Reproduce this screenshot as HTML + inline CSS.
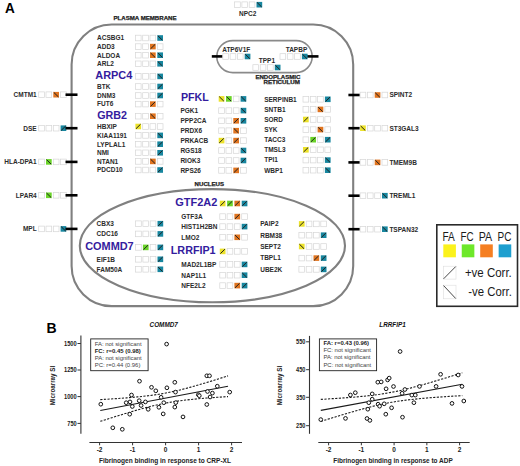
<!DOCTYPE html>
<html><head><meta charset="utf-8"><style>
html,body{margin:0;padding:0;background:#fff;}
body{width:520px;height:466px;overflow:hidden;}
svg{display:block;font-family:"Liberation Sans", sans-serif;}
</style></head><body>
<svg width="520" height="466" viewBox="0 0 520 466">
<rect width="520" height="466" fill="#fff"/>
<rect x="71.6" y="24.5" width="281.6" height="281.6" rx="40" ry="40" fill="none" stroke="#808080" stroke-width="2.1"/>
<ellipse cx="212.4" cy="245.7" rx="132.6" ry="56.6" fill="none" stroke="#808080" stroke-width="2.1"/>
<rect x="216.8" y="40.6" width="95.4" height="32" rx="16" ry="16" fill="none" stroke="#8a8a8a" stroke-width="1.6"/>
<line x1="211.8" y1="56.4" x2="222.6" y2="56.4" stroke="#000" stroke-width="2.6"/>
<line x1="306.5" y1="56.4" x2="318.5" y2="56.4" stroke="#000" stroke-width="2.6"/>
<text x="4.90" y="13.41" font-size="14" font-weight="bold" font-style="normal" fill="#000" text-anchor="start" textLength="9.8" lengthAdjust="spacingAndGlyphs">A</text>
<text x="113.50" y="20.37" font-size="5.5" font-weight="bold" font-style="normal" fill="#222" text-anchor="start" textLength="63" lengthAdjust="spacingAndGlyphs" stroke="#222" stroke-width="0.25">PLASMA MEMBRANE</text>
<text x="194.60" y="185.77" font-size="5.5" font-weight="bold" font-style="normal" fill="#222" text-anchor="start" textLength="29.4" lengthAdjust="spacingAndGlyphs" stroke="#222" stroke-width="0.25">NUCLEUS</text>
<text x="255.40" y="78.97" font-size="5.5" font-weight="bold" font-style="normal" fill="#222" text-anchor="start" textLength="45" lengthAdjust="spacingAndGlyphs" stroke="#222" stroke-width="0.25">ENDOPLASMIC</text>
<text x="263.50" y="83.87" font-size="5.5" font-weight="bold" font-style="normal" fill="#222" text-anchor="start" textLength="36.5" lengthAdjust="spacingAndGlyphs" stroke="#222" stroke-width="0.25">RETICULUM</text>
<text x="97.00" y="40.33" font-size="6.5" font-weight="bold" font-style="normal" fill="#2b2b2b" text-anchor="start">ACSBG1</text>
<rect x="135.40" y="35.20" width="5.7" height="5.6" fill="#fff" stroke="#d6d6d6" stroke-width="0.7"/>
<rect x="142.70" y="35.20" width="5.7" height="5.6" fill="#fff" stroke="#d6d6d6" stroke-width="0.7"/>
<rect x="150.00" y="35.20" width="5.7" height="5.6" fill="#fff" stroke="#d6d6d6" stroke-width="0.7"/>
<rect x="157.30" y="35.20" width="5.7" height="5.6" fill="#17869f"/>
<line x1="157.90" y1="35.80" x2="162.40" y2="40.20" stroke="#222" stroke-width="1.0"/>
<text x="97.00" y="48.93" font-size="6.5" font-weight="bold" font-style="normal" fill="#2b2b2b" text-anchor="start">ADD3</text>
<rect x="135.40" y="43.80" width="5.7" height="5.6" fill="#fff" stroke="#d6d6d6" stroke-width="0.7"/>
<rect x="142.70" y="43.80" width="5.7" height="5.6" fill="#fff" stroke="#d6d6d6" stroke-width="0.7"/>
<rect x="150.00" y="43.80" width="5.7" height="5.6" fill="#e0741f"/>
<line x1="150.60" y1="48.80" x2="155.10" y2="44.40" stroke="#222" stroke-width="1.0"/>
<rect x="157.30" y="43.80" width="5.7" height="5.6" fill="#fff" stroke="#d6d6d6" stroke-width="0.7"/>
<text x="97.00" y="57.53" font-size="6.5" font-weight="bold" font-style="normal" fill="#2b2b2b" text-anchor="start">ALDOA</text>
<rect x="135.40" y="52.40" width="5.7" height="5.6" fill="#fff" stroke="#d6d6d6" stroke-width="0.7"/>
<rect x="142.70" y="52.40" width="5.7" height="5.6" fill="#fff" stroke="#d6d6d6" stroke-width="0.7"/>
<rect x="150.00" y="52.40" width="5.7" height="5.6" fill="#e0741f"/>
<line x1="150.60" y1="53.00" x2="155.10" y2="57.40" stroke="#222" stroke-width="1.0"/>
<rect x="157.30" y="52.40" width="5.7" height="5.6" fill="#17869f"/>
<line x1="157.90" y1="53.00" x2="162.40" y2="57.40" stroke="#222" stroke-width="1.0"/>
<text x="97.00" y="66.13" font-size="6.5" font-weight="bold" font-style="normal" fill="#2b2b2b" text-anchor="start">ARL2</text>
<rect x="135.40" y="61.00" width="5.7" height="5.6" fill="#fff" stroke="#d6d6d6" stroke-width="0.7"/>
<rect x="142.70" y="61.00" width="5.7" height="5.6" fill="#fff" stroke="#d6d6d6" stroke-width="0.7"/>
<rect x="150.00" y="61.00" width="5.7" height="5.6" fill="#fff" stroke="#d6d6d6" stroke-width="0.7"/>
<rect x="157.30" y="61.00" width="5.7" height="5.6" fill="#17869f"/>
<line x1="157.90" y1="61.60" x2="162.40" y2="66.00" stroke="#222" stroke-width="1.0"/>
<text x="95.30" y="78.84" font-size="11" font-weight="bold" font-style="normal" fill="#341c9e" text-anchor="start" textLength="37.0" lengthAdjust="spacingAndGlyphs">ARPC4</text>
<rect x="135.40" y="73.60" width="5.7" height="5.6" fill="#fff" stroke="#d6d6d6" stroke-width="0.7"/>
<rect x="142.70" y="73.60" width="5.7" height="5.6" fill="#fff" stroke="#d6d6d6" stroke-width="0.7"/>
<rect x="150.00" y="73.60" width="5.7" height="5.6" fill="#fff" stroke="#d6d6d6" stroke-width="0.7"/>
<rect x="157.30" y="73.60" width="5.7" height="5.6" fill="#17869f"/>
<line x1="157.90" y1="74.20" x2="162.40" y2="78.60" stroke="#222" stroke-width="1.0"/>
<text x="97.00" y="88.83" font-size="6.5" font-weight="bold" font-style="normal" fill="#2b2b2b" text-anchor="start">BTK</text>
<rect x="135.40" y="83.70" width="5.7" height="5.6" fill="#fff" stroke="#d6d6d6" stroke-width="0.7"/>
<rect x="142.70" y="83.70" width="5.7" height="5.6" fill="#fff" stroke="#d6d6d6" stroke-width="0.7"/>
<rect x="150.00" y="83.70" width="5.7" height="5.6" fill="#fff" stroke="#d6d6d6" stroke-width="0.7"/>
<rect x="157.30" y="83.70" width="5.7" height="5.6" fill="#17869f"/>
<line x1="157.90" y1="88.70" x2="162.40" y2="84.30" stroke="#222" stroke-width="1.0"/>
<text x="97.00" y="97.83" font-size="6.5" font-weight="bold" font-style="normal" fill="#2b2b2b" text-anchor="start">DNM3</text>
<rect x="135.40" y="92.70" width="5.7" height="5.6" fill="#fff" stroke="#d6d6d6" stroke-width="0.7"/>
<rect x="142.70" y="92.70" width="5.7" height="5.6" fill="#fff" stroke="#d6d6d6" stroke-width="0.7"/>
<rect x="150.00" y="92.70" width="5.7" height="5.6" fill="#fff" stroke="#d6d6d6" stroke-width="0.7"/>
<rect x="157.30" y="92.70" width="5.7" height="5.6" fill="#17869f"/>
<line x1="157.90" y1="97.70" x2="162.40" y2="93.30" stroke="#222" stroke-width="1.0"/>
<text x="97.00" y="106.43" font-size="6.5" font-weight="bold" font-style="normal" fill="#2b2b2b" text-anchor="start">FUT6</text>
<rect x="135.40" y="101.30" width="5.7" height="5.6" fill="#fff" stroke="#d6d6d6" stroke-width="0.7"/>
<rect x="142.70" y="101.30" width="5.7" height="5.6" fill="#fff" stroke="#d6d6d6" stroke-width="0.7"/>
<rect x="150.00" y="101.30" width="5.7" height="5.6" fill="#e0741f"/>
<line x1="150.60" y1="106.30" x2="155.10" y2="101.90" stroke="#222" stroke-width="1.0"/>
<rect x="157.30" y="101.30" width="5.7" height="5.6" fill="#fff" stroke="#d6d6d6" stroke-width="0.7"/>
<text x="97.20" y="118.84" font-size="11" font-weight="bold" font-style="normal" fill="#341c9e" text-anchor="start" textLength="29.8" lengthAdjust="spacingAndGlyphs">GRB2</text>
<rect x="135.40" y="113.40" width="5.7" height="5.6" fill="#fff" stroke="#d6d6d6" stroke-width="0.7"/>
<rect x="142.70" y="113.40" width="5.7" height="5.6" fill="#fff" stroke="#d6d6d6" stroke-width="0.7"/>
<rect x="150.00" y="113.40" width="5.7" height="5.6" fill="#e0741f"/>
<line x1="150.60" y1="114.00" x2="155.10" y2="118.40" stroke="#222" stroke-width="1.0"/>
<rect x="157.30" y="113.40" width="5.7" height="5.6" fill="#fff" stroke="#d6d6d6" stroke-width="0.7"/>
<text x="97.00" y="128.83" font-size="6.5" font-weight="bold" font-style="normal" fill="#2b2b2b" text-anchor="start">HBXIP</text>
<rect x="135.40" y="123.70" width="5.7" height="5.6" fill="#ece22a"/>
<line x1="136.00" y1="128.70" x2="140.50" y2="124.30" stroke="#222" stroke-width="1.0"/>
<rect x="142.70" y="123.70" width="5.7" height="5.6" fill="#fff" stroke="#d6d6d6" stroke-width="0.7"/>
<rect x="150.00" y="123.70" width="5.7" height="5.6" fill="#fff" stroke="#d6d6d6" stroke-width="0.7"/>
<rect x="157.30" y="123.70" width="5.7" height="5.6" fill="#fff" stroke="#d6d6d6" stroke-width="0.7"/>
<text x="97.00" y="137.73" font-size="6.5" font-weight="bold" font-style="normal" fill="#2b2b2b" text-anchor="start">KIAA1191</text>
<rect x="135.40" y="132.60" width="5.7" height="5.6" fill="#fff" stroke="#d6d6d6" stroke-width="0.7"/>
<rect x="142.70" y="132.60" width="5.7" height="5.6" fill="#fff" stroke="#d6d6d6" stroke-width="0.7"/>
<rect x="150.00" y="132.60" width="5.7" height="5.6" fill="#fff" stroke="#d6d6d6" stroke-width="0.7"/>
<rect x="157.30" y="132.60" width="5.7" height="5.6" fill="#17869f"/>
<line x1="157.90" y1="133.20" x2="162.40" y2="137.60" stroke="#222" stroke-width="1.0"/>
<text x="97.00" y="146.53" font-size="6.5" font-weight="bold" font-style="normal" fill="#2b2b2b" text-anchor="start">LYPLAL1</text>
<rect x="135.40" y="141.40" width="5.7" height="5.6" fill="#fff" stroke="#d6d6d6" stroke-width="0.7"/>
<rect x="142.70" y="141.40" width="5.7" height="5.6" fill="#fff" stroke="#d6d6d6" stroke-width="0.7"/>
<rect x="150.00" y="141.40" width="5.7" height="5.6" fill="#fff" stroke="#d6d6d6" stroke-width="0.7"/>
<rect x="157.30" y="141.40" width="5.7" height="5.6" fill="#17869f"/>
<line x1="157.90" y1="146.40" x2="162.40" y2="142.00" stroke="#222" stroke-width="1.0"/>
<text x="97.00" y="155.13" font-size="6.5" font-weight="bold" font-style="normal" fill="#2b2b2b" text-anchor="start">NMI</text>
<rect x="135.40" y="150.00" width="5.7" height="5.6" fill="#fff" stroke="#d6d6d6" stroke-width="0.7"/>
<rect x="142.70" y="150.00" width="5.7" height="5.6" fill="#fff" stroke="#d6d6d6" stroke-width="0.7"/>
<rect x="150.00" y="150.00" width="5.7" height="5.6" fill="#fff" stroke="#d6d6d6" stroke-width="0.7"/>
<rect x="157.30" y="150.00" width="5.7" height="5.6" fill="#17869f"/>
<line x1="157.90" y1="155.00" x2="162.40" y2="150.60" stroke="#222" stroke-width="1.0"/>
<text x="97.00" y="163.73" font-size="6.5" font-weight="bold" font-style="normal" fill="#2b2b2b" text-anchor="start">NTAN1</text>
<rect x="135.40" y="158.60" width="5.7" height="5.6" fill="#fff" stroke="#d6d6d6" stroke-width="0.7"/>
<rect x="142.70" y="158.60" width="5.7" height="5.6" fill="#fff" stroke="#d6d6d6" stroke-width="0.7"/>
<rect x="150.00" y="158.60" width="5.7" height="5.6" fill="#e0741f"/>
<line x1="150.60" y1="159.20" x2="155.10" y2="163.60" stroke="#222" stroke-width="1.0"/>
<rect x="157.30" y="158.60" width="5.7" height="5.6" fill="#fff" stroke="#d6d6d6" stroke-width="0.7"/>
<text x="97.00" y="172.33" font-size="6.5" font-weight="bold" font-style="normal" fill="#2b2b2b" text-anchor="start">PDCD10</text>
<rect x="135.40" y="167.20" width="5.7" height="5.6" fill="#fff" stroke="#d6d6d6" stroke-width="0.7"/>
<rect x="142.70" y="167.20" width="5.7" height="5.6" fill="#fff" stroke="#d6d6d6" stroke-width="0.7"/>
<rect x="150.00" y="167.20" width="5.7" height="5.6" fill="#fff" stroke="#d6d6d6" stroke-width="0.7"/>
<rect x="157.30" y="167.20" width="5.7" height="5.6" fill="#17869f"/>
<line x1="157.90" y1="172.20" x2="162.40" y2="167.80" stroke="#222" stroke-width="1.0"/>
<text x="181.00" y="101.04" font-size="11" font-weight="bold" font-style="normal" fill="#341c9e" text-anchor="start" textLength="27.8" lengthAdjust="spacingAndGlyphs">PFKL</text>
<rect x="218.70" y="96.10" width="5.7" height="5.6" fill="#ece22a"/>
<line x1="219.30" y1="96.70" x2="223.80" y2="101.10" stroke="#222" stroke-width="1.0"/>
<rect x="226.00" y="96.10" width="5.7" height="5.6" fill="#6ad428"/>
<line x1="226.60" y1="96.70" x2="231.10" y2="101.10" stroke="#222" stroke-width="1.0"/>
<rect x="233.30" y="96.10" width="5.7" height="5.6" fill="#fff" stroke="#d6d6d6" stroke-width="0.7"/>
<rect x="240.60" y="96.10" width="5.7" height="5.6" fill="#17869f"/>
<line x1="241.20" y1="96.70" x2="245.70" y2="101.10" stroke="#222" stroke-width="1.0"/>
<text x="180.40" y="112.93" font-size="6.5" font-weight="bold" font-style="normal" fill="#2b2b2b" text-anchor="start">PGK1</text>
<rect x="218.70" y="107.80" width="5.7" height="5.6" fill="#fff" stroke="#d6d6d6" stroke-width="0.7"/>
<rect x="226.00" y="107.80" width="5.7" height="5.6" fill="#fff" stroke="#d6d6d6" stroke-width="0.7"/>
<rect x="233.30" y="107.80" width="5.7" height="5.6" fill="#fff" stroke="#d6d6d6" stroke-width="0.7"/>
<rect x="240.60" y="107.80" width="5.7" height="5.6" fill="#17869f"/>
<line x1="241.20" y1="108.40" x2="245.70" y2="112.80" stroke="#222" stroke-width="1.0"/>
<text x="180.40" y="123.13" font-size="6.5" font-weight="bold" font-style="normal" fill="#2b2b2b" text-anchor="start">PPP2CA</text>
<rect x="218.70" y="118.00" width="5.7" height="5.6" fill="#fff" stroke="#d6d6d6" stroke-width="0.7"/>
<rect x="226.00" y="118.00" width="5.7" height="5.6" fill="#fff" stroke="#d6d6d6" stroke-width="0.7"/>
<rect x="233.30" y="118.00" width="5.7" height="5.6" fill="#e0741f"/>
<line x1="233.90" y1="123.00" x2="238.40" y2="118.60" stroke="#222" stroke-width="1.0"/>
<rect x="240.60" y="118.00" width="5.7" height="5.6" fill="#17869f"/>
<line x1="241.20" y1="123.00" x2="245.70" y2="118.60" stroke="#222" stroke-width="1.0"/>
<text x="180.40" y="133.03" font-size="6.5" font-weight="bold" font-style="normal" fill="#2b2b2b" text-anchor="start">PRDX6</text>
<rect x="218.70" y="127.90" width="5.7" height="5.6" fill="#fff" stroke="#d6d6d6" stroke-width="0.7"/>
<rect x="226.00" y="127.90" width="5.7" height="5.6" fill="#fff" stroke="#d6d6d6" stroke-width="0.7"/>
<rect x="233.30" y="127.90" width="5.7" height="5.6" fill="#e0741f"/>
<line x1="233.90" y1="128.50" x2="238.40" y2="132.90" stroke="#222" stroke-width="1.0"/>
<rect x="240.60" y="127.90" width="5.7" height="5.6" fill="#fff" stroke="#d6d6d6" stroke-width="0.7"/>
<text x="180.40" y="142.93" font-size="6.5" font-weight="bold" font-style="normal" fill="#2b2b2b" text-anchor="start">PRKACB</text>
<rect x="218.70" y="137.80" width="5.7" height="5.6" fill="#ece22a"/>
<line x1="219.30" y1="142.80" x2="223.80" y2="138.40" stroke="#222" stroke-width="1.0"/>
<rect x="226.00" y="137.80" width="5.7" height="5.6" fill="#fff" stroke="#d6d6d6" stroke-width="0.7"/>
<rect x="233.30" y="137.80" width="5.7" height="5.6" fill="#e0741f"/>
<line x1="233.90" y1="142.80" x2="238.40" y2="138.40" stroke="#222" stroke-width="1.0"/>
<rect x="240.60" y="137.80" width="5.7" height="5.6" fill="#fff" stroke="#d6d6d6" stroke-width="0.7"/>
<text x="180.40" y="152.83" font-size="6.5" font-weight="bold" font-style="normal" fill="#2b2b2b" text-anchor="start">RGS18</text>
<rect x="218.70" y="147.70" width="5.7" height="5.6" fill="#fff" stroke="#d6d6d6" stroke-width="0.7"/>
<rect x="226.00" y="147.70" width="5.7" height="5.6" fill="#fff" stroke="#d6d6d6" stroke-width="0.7"/>
<rect x="233.30" y="147.70" width="5.7" height="5.6" fill="#fff" stroke="#d6d6d6" stroke-width="0.7"/>
<rect x="240.60" y="147.70" width="5.7" height="5.6" fill="#17869f"/>
<line x1="241.20" y1="148.30" x2="245.70" y2="152.70" stroke="#222" stroke-width="1.0"/>
<text x="180.40" y="162.83" font-size="6.5" font-weight="bold" font-style="normal" fill="#2b2b2b" text-anchor="start">RIOK3</text>
<rect x="218.70" y="157.70" width="5.7" height="5.6" fill="#fff" stroke="#d6d6d6" stroke-width="0.7"/>
<rect x="226.00" y="157.70" width="5.7" height="5.6" fill="#fff" stroke="#d6d6d6" stroke-width="0.7"/>
<rect x="233.30" y="157.70" width="5.7" height="5.6" fill="#fff" stroke="#d6d6d6" stroke-width="0.7"/>
<rect x="240.60" y="157.70" width="5.7" height="5.6" fill="#17869f"/>
<line x1="241.20" y1="162.70" x2="245.70" y2="158.30" stroke="#222" stroke-width="1.0"/>
<text x="180.40" y="172.73" font-size="6.5" font-weight="bold" font-style="normal" fill="#2b2b2b" text-anchor="start">RPS26</text>
<rect x="218.70" y="167.60" width="5.7" height="5.6" fill="#fff" stroke="#d6d6d6" stroke-width="0.7"/>
<rect x="226.00" y="167.60" width="5.7" height="5.6" fill="#fff" stroke="#d6d6d6" stroke-width="0.7"/>
<rect x="233.30" y="167.60" width="5.7" height="5.6" fill="#e0741f"/>
<line x1="233.90" y1="172.60" x2="238.40" y2="168.20" stroke="#222" stroke-width="1.0"/>
<rect x="240.60" y="167.60" width="5.7" height="5.6" fill="#fff" stroke="#d6d6d6" stroke-width="0.7"/>
<text x="264.20" y="101.63" font-size="6.5" font-weight="bold" font-style="normal" fill="#2b2b2b" text-anchor="start">SERPINB1</text>
<rect x="303.00" y="96.50" width="5.7" height="5.6" fill="#fff" stroke="#d6d6d6" stroke-width="0.7"/>
<rect x="310.30" y="96.50" width="5.7" height="5.6" fill="#fff" stroke="#d6d6d6" stroke-width="0.7"/>
<rect x="317.60" y="96.50" width="5.7" height="5.6" fill="#fff" stroke="#d6d6d6" stroke-width="0.7"/>
<rect x="324.90" y="96.50" width="5.7" height="5.6" fill="#17869f"/>
<line x1="325.50" y1="101.50" x2="330.00" y2="97.10" stroke="#222" stroke-width="1.0"/>
<text x="264.20" y="111.73" font-size="6.5" font-weight="bold" font-style="normal" fill="#2b2b2b" text-anchor="start">SNTB1</text>
<rect x="303.00" y="106.60" width="5.7" height="5.6" fill="#fff" stroke="#d6d6d6" stroke-width="0.7"/>
<rect x="310.30" y="106.60" width="5.7" height="5.6" fill="#fff" stroke="#d6d6d6" stroke-width="0.7"/>
<rect x="317.60" y="106.60" width="5.7" height="5.6" fill="#e0741f"/>
<line x1="318.20" y1="107.20" x2="322.70" y2="111.60" stroke="#222" stroke-width="1.0"/>
<rect x="324.90" y="106.60" width="5.7" height="5.6" fill="#fff" stroke="#d6d6d6" stroke-width="0.7"/>
<text x="264.20" y="121.83" font-size="6.5" font-weight="bold" font-style="normal" fill="#2b2b2b" text-anchor="start">SORD</text>
<rect x="303.00" y="116.70" width="5.7" height="5.6" fill="#ece22a"/>
<line x1="303.60" y1="121.70" x2="308.10" y2="117.30" stroke="#222" stroke-width="1.0"/>
<rect x="310.30" y="116.70" width="5.7" height="5.6" fill="#fff" stroke="#d6d6d6" stroke-width="0.7"/>
<rect x="317.60" y="116.70" width="5.7" height="5.6" fill="#fff" stroke="#d6d6d6" stroke-width="0.7"/>
<rect x="324.90" y="116.70" width="5.7" height="5.6" fill="#fff" stroke="#d6d6d6" stroke-width="0.7"/>
<text x="264.20" y="131.93" font-size="6.5" font-weight="bold" font-style="normal" fill="#2b2b2b" text-anchor="start">SYK</text>
<rect x="303.00" y="126.80" width="5.7" height="5.6" fill="#fff" stroke="#d6d6d6" stroke-width="0.7"/>
<rect x="310.30" y="126.80" width="5.7" height="5.6" fill="#fff" stroke="#d6d6d6" stroke-width="0.7"/>
<rect x="317.60" y="126.80" width="5.7" height="5.6" fill="#e0741f"/>
<line x1="318.20" y1="127.40" x2="322.70" y2="131.80" stroke="#222" stroke-width="1.0"/>
<rect x="324.90" y="126.80" width="5.7" height="5.6" fill="#fff" stroke="#d6d6d6" stroke-width="0.7"/>
<text x="264.20" y="142.03" font-size="6.5" font-weight="bold" font-style="normal" fill="#2b2b2b" text-anchor="start">TACC3</text>
<rect x="303.00" y="136.90" width="5.7" height="5.6" fill="#fff" stroke="#d6d6d6" stroke-width="0.7"/>
<rect x="310.30" y="136.90" width="5.7" height="5.6" fill="#6ad428"/>
<line x1="310.90" y1="141.90" x2="315.40" y2="137.50" stroke="#222" stroke-width="1.0"/>
<rect x="317.60" y="136.90" width="5.7" height="5.6" fill="#fff" stroke="#d6d6d6" stroke-width="0.7"/>
<rect x="324.90" y="136.90" width="5.7" height="5.6" fill="#17869f"/>
<line x1="325.50" y1="141.90" x2="330.00" y2="137.50" stroke="#222" stroke-width="1.0"/>
<text x="264.20" y="152.13" font-size="6.5" font-weight="bold" font-style="normal" fill="#2b2b2b" text-anchor="start">TMSL3</text>
<rect x="303.00" y="147.00" width="5.7" height="5.6" fill="#ece22a"/>
<line x1="303.60" y1="152.00" x2="308.10" y2="147.60" stroke="#222" stroke-width="1.0"/>
<rect x="310.30" y="147.00" width="5.7" height="5.6" fill="#fff" stroke="#d6d6d6" stroke-width="0.7"/>
<rect x="317.60" y="147.00" width="5.7" height="5.6" fill="#fff" stroke="#d6d6d6" stroke-width="0.7"/>
<rect x="324.90" y="147.00" width="5.7" height="5.6" fill="#fff" stroke="#d6d6d6" stroke-width="0.7"/>
<text x="264.20" y="162.43" font-size="6.5" font-weight="bold" font-style="normal" fill="#2b2b2b" text-anchor="start">TPI1</text>
<rect x="303.00" y="157.30" width="5.7" height="5.6" fill="#fff" stroke="#d6d6d6" stroke-width="0.7"/>
<rect x="310.30" y="157.30" width="5.7" height="5.6" fill="#fff" stroke="#d6d6d6" stroke-width="0.7"/>
<rect x="317.60" y="157.30" width="5.7" height="5.6" fill="#fff" stroke="#d6d6d6" stroke-width="0.7"/>
<rect x="324.90" y="157.30" width="5.7" height="5.6" fill="#17869f"/>
<line x1="325.50" y1="157.90" x2="330.00" y2="162.30" stroke="#222" stroke-width="1.0"/>
<text x="264.20" y="172.53" font-size="6.5" font-weight="bold" font-style="normal" fill="#2b2b2b" text-anchor="start">WBP1</text>
<rect x="303.00" y="167.40" width="5.7" height="5.6" fill="#fff" stroke="#d6d6d6" stroke-width="0.7"/>
<rect x="310.30" y="167.40" width="5.7" height="5.6" fill="#fff" stroke="#d6d6d6" stroke-width="0.7"/>
<rect x="317.60" y="167.40" width="5.7" height="5.6" fill="#fff" stroke="#d6d6d6" stroke-width="0.7"/>
<rect x="324.90" y="167.40" width="5.7" height="5.6" fill="#17869f"/>
<line x1="325.50" y1="168.00" x2="330.00" y2="172.40" stroke="#222" stroke-width="1.0"/>
<text x="96.60" y="226.03" font-size="6.5" font-weight="bold" font-style="normal" fill="#2b2b2b" text-anchor="start">CBX3</text>
<rect x="135.60" y="220.90" width="5.7" height="5.6" fill="#fff" stroke="#d6d6d6" stroke-width="0.7"/>
<rect x="142.90" y="220.90" width="5.7" height="5.6" fill="#fff" stroke="#d6d6d6" stroke-width="0.7"/>
<rect x="150.20" y="220.90" width="5.7" height="5.6" fill="#fff" stroke="#d6d6d6" stroke-width="0.7"/>
<rect x="157.50" y="220.90" width="5.7" height="5.6" fill="#17869f"/>
<line x1="158.10" y1="225.90" x2="162.60" y2="221.50" stroke="#222" stroke-width="1.0"/>
<text x="96.60" y="236.23" font-size="6.5" font-weight="bold" font-style="normal" fill="#2b2b2b" text-anchor="start">CDC16</text>
<rect x="135.60" y="231.10" width="5.7" height="5.6" fill="#fff" stroke="#d6d6d6" stroke-width="0.7"/>
<rect x="142.90" y="231.10" width="5.7" height="5.6" fill="#fff" stroke="#d6d6d6" stroke-width="0.7"/>
<rect x="150.20" y="231.10" width="5.7" height="5.6" fill="#fff" stroke="#d6d6d6" stroke-width="0.7"/>
<rect x="157.50" y="231.10" width="5.7" height="5.6" fill="#17869f"/>
<line x1="158.10" y1="236.10" x2="162.60" y2="231.70" stroke="#222" stroke-width="1.0"/>
<text x="85.20" y="249.74" font-size="11" font-weight="bold" font-style="normal" fill="#341c9e" text-anchor="start" textLength="48.5" lengthAdjust="spacingAndGlyphs">COMMD7</text>
<rect x="135.60" y="244.60" width="5.7" height="5.6" fill="#fff" stroke="#d6d6d6" stroke-width="0.7"/>
<rect x="142.90" y="244.60" width="5.7" height="5.6" fill="#6ad428"/>
<line x1="143.50" y1="249.60" x2="148.00" y2="245.20" stroke="#222" stroke-width="1.0"/>
<rect x="150.20" y="244.60" width="5.7" height="5.6" fill="#fff" stroke="#d6d6d6" stroke-width="0.7"/>
<rect x="157.50" y="244.60" width="5.7" height="5.6" fill="#17869f"/>
<line x1="158.10" y1="249.60" x2="162.60" y2="245.20" stroke="#222" stroke-width="1.0"/>
<text x="96.60" y="261.63" font-size="6.5" font-weight="bold" font-style="normal" fill="#2b2b2b" text-anchor="start">EIF1B</text>
<rect x="135.60" y="256.50" width="5.7" height="5.6" fill="#fff" stroke="#d6d6d6" stroke-width="0.7"/>
<rect x="142.90" y="256.50" width="5.7" height="5.6" fill="#fff" stroke="#d6d6d6" stroke-width="0.7"/>
<rect x="150.20" y="256.50" width="5.7" height="5.6" fill="#fff" stroke="#d6d6d6" stroke-width="0.7"/>
<rect x="157.50" y="256.50" width="5.7" height="5.6" fill="#17869f"/>
<line x1="158.10" y1="261.50" x2="162.60" y2="257.10" stroke="#222" stroke-width="1.0"/>
<text x="96.60" y="271.63" font-size="6.5" font-weight="bold" font-style="normal" fill="#2b2b2b" text-anchor="start">FAM50A</text>
<rect x="135.60" y="266.50" width="5.7" height="5.6" fill="#fff" stroke="#d6d6d6" stroke-width="0.7"/>
<rect x="142.90" y="266.50" width="5.7" height="5.6" fill="#fff" stroke="#d6d6d6" stroke-width="0.7"/>
<rect x="150.20" y="266.50" width="5.7" height="5.6" fill="#fff" stroke="#d6d6d6" stroke-width="0.7"/>
<rect x="157.50" y="266.50" width="5.7" height="5.6" fill="#17869f"/>
<line x1="158.10" y1="267.10" x2="162.60" y2="271.50" stroke="#222" stroke-width="1.0"/>
<text x="175.20" y="206.24" font-size="11" font-weight="bold" font-style="normal" fill="#341c9e" text-anchor="start" textLength="42.1" lengthAdjust="spacingAndGlyphs">GTF2A2</text>
<rect x="219.80" y="200.70" width="5.7" height="5.6" fill="#ece22a"/>
<line x1="220.40" y1="205.70" x2="224.90" y2="201.30" stroke="#222" stroke-width="1.0"/>
<rect x="227.10" y="200.70" width="5.7" height="5.6" fill="#6ad428"/>
<line x1="227.70" y1="205.70" x2="232.20" y2="201.30" stroke="#222" stroke-width="1.0"/>
<rect x="234.40" y="200.70" width="5.7" height="5.6" fill="#e0741f"/>
<line x1="235.00" y1="205.70" x2="239.50" y2="201.30" stroke="#222" stroke-width="1.0"/>
<rect x="241.70" y="200.70" width="5.7" height="5.6" fill="#17869f"/>
<line x1="242.30" y1="205.70" x2="246.80" y2="201.30" stroke="#222" stroke-width="1.0"/>
<text x="181.30" y="218.93" font-size="6.5" font-weight="bold" font-style="normal" fill="#2b2b2b" text-anchor="start">GTF3A</text>
<rect x="219.80" y="213.80" width="5.7" height="5.6" fill="#fff" stroke="#d6d6d6" stroke-width="0.7"/>
<rect x="227.10" y="213.80" width="5.7" height="5.6" fill="#fff" stroke="#d6d6d6" stroke-width="0.7"/>
<rect x="234.40" y="213.80" width="5.7" height="5.6" fill="#e0741f"/>
<line x1="235.00" y1="218.80" x2="239.50" y2="214.40" stroke="#222" stroke-width="1.0"/>
<rect x="241.70" y="213.80" width="5.7" height="5.6" fill="#fff" stroke="#d6d6d6" stroke-width="0.7"/>
<text x="181.30" y="228.93" font-size="6.5" font-weight="bold" font-style="normal" fill="#2b2b2b" text-anchor="start">HIST1H2BN</text>
<rect x="219.80" y="223.80" width="5.7" height="5.6" fill="#fff" stroke="#d6d6d6" stroke-width="0.7"/>
<rect x="227.10" y="223.80" width="5.7" height="5.6" fill="#fff" stroke="#d6d6d6" stroke-width="0.7"/>
<rect x="234.40" y="223.80" width="5.7" height="5.6" fill="#fff" stroke="#d6d6d6" stroke-width="0.7"/>
<rect x="241.70" y="223.80" width="5.7" height="5.6" fill="#17869f"/>
<line x1="242.30" y1="228.80" x2="246.80" y2="224.40" stroke="#222" stroke-width="1.0"/>
<text x="181.30" y="239.63" font-size="6.5" font-weight="bold" font-style="normal" fill="#2b2b2b" text-anchor="start">LMO2</text>
<rect x="219.80" y="234.50" width="5.7" height="5.6" fill="#fff" stroke="#d6d6d6" stroke-width="0.7"/>
<rect x="227.10" y="234.50" width="5.7" height="5.6" fill="#fff" stroke="#d6d6d6" stroke-width="0.7"/>
<rect x="234.40" y="234.50" width="5.7" height="5.6" fill="#e0741f"/>
<line x1="235.00" y1="235.10" x2="239.50" y2="239.50" stroke="#222" stroke-width="1.0"/>
<rect x="241.70" y="234.50" width="5.7" height="5.6" fill="#fff" stroke="#d6d6d6" stroke-width="0.7"/>
<text x="170.80" y="253.64" font-size="11" font-weight="bold" font-style="normal" fill="#341c9e" text-anchor="start" textLength="44.8" lengthAdjust="spacingAndGlyphs">LRRFIP1</text>
<rect x="219.80" y="248.60" width="5.7" height="5.6" fill="#ece22a"/>
<line x1="220.40" y1="253.60" x2="224.90" y2="249.20" stroke="#222" stroke-width="1.0"/>
<rect x="227.10" y="248.60" width="5.7" height="5.6" fill="#fff" stroke="#d6d6d6" stroke-width="0.7"/>
<rect x="234.40" y="248.60" width="5.7" height="5.6" fill="#fff" stroke="#d6d6d6" stroke-width="0.7"/>
<rect x="241.70" y="248.60" width="5.7" height="5.6" fill="#fff" stroke="#d6d6d6" stroke-width="0.7"/>
<text x="181.30" y="266.73" font-size="6.5" font-weight="bold" font-style="normal" fill="#2b2b2b" text-anchor="start">MAD2L1BP</text>
<rect x="219.80" y="261.60" width="5.7" height="5.6" fill="#fff" stroke="#d6d6d6" stroke-width="0.7"/>
<rect x="227.10" y="261.60" width="5.7" height="5.6" fill="#fff" stroke="#d6d6d6" stroke-width="0.7"/>
<rect x="234.40" y="261.60" width="5.7" height="5.6" fill="#fff" stroke="#d6d6d6" stroke-width="0.7"/>
<rect x="241.70" y="261.60" width="5.7" height="5.6" fill="#17869f"/>
<line x1="242.30" y1="266.60" x2="246.80" y2="262.20" stroke="#222" stroke-width="1.0"/>
<text x="181.30" y="277.53" font-size="6.5" font-weight="bold" font-style="normal" fill="#2b2b2b" text-anchor="start">NAP1L1</text>
<rect x="219.80" y="272.40" width="5.7" height="5.6" fill="#fff" stroke="#d6d6d6" stroke-width="0.7"/>
<rect x="227.10" y="272.40" width="5.7" height="5.6" fill="#fff" stroke="#d6d6d6" stroke-width="0.7"/>
<rect x="234.40" y="272.40" width="5.7" height="5.6" fill="#fff" stroke="#d6d6d6" stroke-width="0.7"/>
<rect x="241.70" y="272.40" width="5.7" height="5.6" fill="#17869f"/>
<line x1="242.30" y1="273.00" x2="246.80" y2="277.40" stroke="#222" stroke-width="1.0"/>
<text x="181.30" y="287.93" font-size="6.5" font-weight="bold" font-style="normal" fill="#2b2b2b" text-anchor="start">NFE2L2</text>
<rect x="219.80" y="282.80" width="5.7" height="5.6" fill="#fff" stroke="#d6d6d6" stroke-width="0.7"/>
<rect x="227.10" y="282.80" width="5.7" height="5.6" fill="#fff" stroke="#d6d6d6" stroke-width="0.7"/>
<rect x="234.40" y="282.80" width="5.7" height="5.6" fill="#e0741f"/>
<line x1="235.00" y1="287.80" x2="239.50" y2="283.40" stroke="#222" stroke-width="1.0"/>
<rect x="241.70" y="282.80" width="5.7" height="5.6" fill="#17869f"/>
<line x1="242.30" y1="287.80" x2="246.80" y2="283.40" stroke="#222" stroke-width="1.0"/>
<text x="260.20" y="226.23" font-size="6.5" font-weight="bold" font-style="normal" fill="#2b2b2b" text-anchor="start">PAIP2</text>
<rect x="298.90" y="221.10" width="5.7" height="5.6" fill="#ece22a"/>
<line x1="299.50" y1="226.10" x2="304.00" y2="221.70" stroke="#222" stroke-width="1.0"/>
<rect x="306.20" y="221.10" width="5.7" height="5.6" fill="#fff" stroke="#d6d6d6" stroke-width="0.7"/>
<rect x="313.50" y="221.10" width="5.7" height="5.6" fill="#fff" stroke="#d6d6d6" stroke-width="0.7"/>
<rect x="320.80" y="221.10" width="5.7" height="5.6" fill="#fff" stroke="#d6d6d6" stroke-width="0.7"/>
<text x="260.20" y="237.53" font-size="6.5" font-weight="bold" font-style="normal" fill="#2b2b2b" text-anchor="start">RBM38</text>
<rect x="298.90" y="232.40" width="5.7" height="5.6" fill="#fff" stroke="#d6d6d6" stroke-width="0.7"/>
<rect x="306.20" y="232.40" width="5.7" height="5.6" fill="#fff" stroke="#d6d6d6" stroke-width="0.7"/>
<rect x="313.50" y="232.40" width="5.7" height="5.6" fill="#fff" stroke="#d6d6d6" stroke-width="0.7"/>
<rect x="320.80" y="232.40" width="5.7" height="5.6" fill="#17869f"/>
<line x1="321.40" y1="237.40" x2="325.90" y2="233.00" stroke="#222" stroke-width="1.0"/>
<text x="260.20" y="248.83" font-size="6.5" font-weight="bold" font-style="normal" fill="#2b2b2b" text-anchor="start">SEPT2</text>
<rect x="298.90" y="243.70" width="5.7" height="5.6" fill="#ece22a"/>
<line x1="299.50" y1="244.30" x2="304.00" y2="248.70" stroke="#222" stroke-width="1.0"/>
<rect x="306.20" y="243.70" width="5.7" height="5.6" fill="#fff" stroke="#d6d6d6" stroke-width="0.7"/>
<rect x="313.50" y="243.70" width="5.7" height="5.6" fill="#fff" stroke="#d6d6d6" stroke-width="0.7"/>
<rect x="320.80" y="243.70" width="5.7" height="5.6" fill="#fff" stroke="#d6d6d6" stroke-width="0.7"/>
<text x="260.20" y="260.43" font-size="6.5" font-weight="bold" font-style="normal" fill="#2b2b2b" text-anchor="start">TBPL1</text>
<rect x="298.90" y="255.30" width="5.7" height="5.6" fill="#fff" stroke="#d6d6d6" stroke-width="0.7"/>
<rect x="306.20" y="255.30" width="5.7" height="5.6" fill="#fff" stroke="#d6d6d6" stroke-width="0.7"/>
<rect x="313.50" y="255.30" width="5.7" height="5.6" fill="#e0741f"/>
<line x1="314.10" y1="260.30" x2="318.60" y2="255.90" stroke="#222" stroke-width="1.0"/>
<rect x="320.80" y="255.30" width="5.7" height="5.6" fill="#17869f"/>
<line x1="321.40" y1="260.30" x2="325.90" y2="255.90" stroke="#222" stroke-width="1.0"/>
<text x="260.20" y="271.73" font-size="6.5" font-weight="bold" font-style="normal" fill="#2b2b2b" text-anchor="start">UBE2K</text>
<rect x="298.90" y="266.60" width="5.7" height="5.6" fill="#fff" stroke="#d6d6d6" stroke-width="0.7"/>
<rect x="306.20" y="266.60" width="5.7" height="5.6" fill="#fff" stroke="#d6d6d6" stroke-width="0.7"/>
<rect x="313.50" y="266.60" width="5.7" height="5.6" fill="#fff" stroke="#d6d6d6" stroke-width="0.7"/>
<rect x="320.80" y="266.60" width="5.7" height="5.6" fill="#17869f"/>
<line x1="321.40" y1="271.60" x2="325.90" y2="267.20" stroke="#222" stroke-width="1.0"/>
<text x="222.20" y="52.03" font-size="6.5" font-weight="bold" font-style="normal" fill="#2b2b2b" text-anchor="start">ATP6V1F</text>
<rect x="222.80" y="53.70" width="5.7" height="5.6" fill="#fff" stroke="#d6d6d6" stroke-width="0.7"/>
<rect x="230.10" y="53.70" width="5.7" height="5.6" fill="#fff" stroke="#d6d6d6" stroke-width="0.7"/>
<rect x="237.40" y="53.70" width="5.7" height="5.6" fill="#fff" stroke="#d6d6d6" stroke-width="0.7"/>
<rect x="244.70" y="53.70" width="5.7" height="5.6" fill="#17869f"/>
<line x1="245.30" y1="54.30" x2="249.80" y2="58.70" stroke="#222" stroke-width="1.0"/>
<text x="285.70" y="52.03" font-size="6.5" font-weight="bold" font-style="normal" fill="#2b2b2b" text-anchor="start">TAPBP</text>
<rect x="280.00" y="53.70" width="5.7" height="5.6" fill="#fff" stroke="#d6d6d6" stroke-width="0.7"/>
<rect x="287.30" y="53.70" width="5.7" height="5.6" fill="#fff" stroke="#d6d6d6" stroke-width="0.7"/>
<rect x="294.60" y="53.70" width="5.7" height="5.6" fill="#fff" stroke="#d6d6d6" stroke-width="0.7"/>
<rect x="301.90" y="53.70" width="5.7" height="5.6" fill="#17869f"/>
<line x1="302.50" y1="54.30" x2="307.00" y2="58.70" stroke="#222" stroke-width="1.0"/>
<text x="258.80" y="63.03" font-size="6.5" font-weight="bold" font-style="normal" fill="#2b2b2b" text-anchor="start">TPP1</text>
<rect x="252.90" y="64.70" width="5.7" height="5.6" fill="#fff" stroke="#d6d6d6" stroke-width="0.7"/>
<rect x="260.20" y="64.70" width="5.7" height="5.6" fill="#fff" stroke="#d6d6d6" stroke-width="0.7"/>
<rect x="267.50" y="64.70" width="5.7" height="5.6" fill="#fff" stroke="#d6d6d6" stroke-width="0.7"/>
<rect x="274.80" y="64.70" width="5.7" height="5.6" fill="#17869f"/>
<line x1="275.40" y1="65.30" x2="279.90" y2="69.70" stroke="#222" stroke-width="1.0"/>
<rect x="234.60" y="1.90" width="5.7" height="5.6" fill="#fff" stroke="#d6d6d6" stroke-width="0.7"/>
<rect x="241.90" y="1.90" width="5.7" height="5.6" fill="#fff" stroke="#d6d6d6" stroke-width="0.7"/>
<rect x="249.20" y="1.90" width="5.7" height="5.6" fill="#fff" stroke="#d6d6d6" stroke-width="0.7"/>
<rect x="256.50" y="1.90" width="5.7" height="5.6" fill="#17869f"/>
<line x1="257.10" y1="2.50" x2="261.60" y2="6.90" stroke="#222" stroke-width="1.0"/>
<text x="239.10" y="16.43" font-size="6.5" font-weight="bold" font-style="normal" fill="#2b2b2b" text-anchor="start">NPC2</text>
<text x="36.70" y="97.03" font-size="6.5" font-weight="bold" font-style="normal" fill="#2b2b2b" text-anchor="end">CMTM1</text>
<rect x="38.70" y="91.90" width="5.7" height="5.6" fill="#fff" stroke="#d6d6d6" stroke-width="0.7"/>
<rect x="46.00" y="91.90" width="5.7" height="5.6" fill="#fff" stroke="#d6d6d6" stroke-width="0.7"/>
<rect x="53.30" y="91.90" width="5.7" height="5.6" fill="#e0741f"/>
<line x1="53.90" y1="92.50" x2="58.40" y2="96.90" stroke="#222" stroke-width="1.0"/>
<rect x="60.60" y="91.90" width="5.7" height="5.6" fill="#fff" stroke="#d6d6d6" stroke-width="0.7"/>
<line x1="65.5" y1="94.7" x2="77.5" y2="94.7" stroke="#000" stroke-width="2.6"/>
<text x="36.70" y="130.53" font-size="6.5" font-weight="bold" font-style="normal" fill="#2b2b2b" text-anchor="end">DSE</text>
<rect x="38.70" y="125.40" width="5.7" height="5.6" fill="#fff" stroke="#d6d6d6" stroke-width="0.7"/>
<rect x="46.00" y="125.40" width="5.7" height="5.6" fill="#fff" stroke="#d6d6d6" stroke-width="0.7"/>
<rect x="53.30" y="125.40" width="5.7" height="5.6" fill="#fff" stroke="#d6d6d6" stroke-width="0.7"/>
<rect x="60.60" y="125.40" width="5.7" height="5.6" fill="#17869f"/>
<line x1="61.20" y1="130.40" x2="65.70" y2="126.00" stroke="#222" stroke-width="1.0"/>
<line x1="65.5" y1="128.2" x2="77.5" y2="128.2" stroke="#000" stroke-width="2.6"/>
<text x="36.70" y="164.23" font-size="6.5" font-weight="bold" font-style="normal" fill="#2b2b2b" text-anchor="end">HLA-DPA1</text>
<rect x="38.70" y="159.10" width="5.7" height="5.6" fill="#fff" stroke="#d6d6d6" stroke-width="0.7"/>
<rect x="46.00" y="159.10" width="5.7" height="5.6" fill="#6ad428"/>
<line x1="46.60" y1="159.70" x2="51.10" y2="164.10" stroke="#222" stroke-width="1.0"/>
<rect x="53.30" y="159.10" width="5.7" height="5.6" fill="#fff" stroke="#d6d6d6" stroke-width="0.7"/>
<rect x="60.60" y="159.10" width="5.7" height="5.6" fill="#fff" stroke="#d6d6d6" stroke-width="0.7"/>
<line x1="65.5" y1="161.9" x2="77.5" y2="161.9" stroke="#000" stroke-width="2.6"/>
<text x="36.70" y="197.63" font-size="6.5" font-weight="bold" font-style="normal" fill="#2b2b2b" text-anchor="end">LPAR4</text>
<rect x="38.70" y="192.50" width="5.7" height="5.6" fill="#fff" stroke="#d6d6d6" stroke-width="0.7"/>
<rect x="46.00" y="192.50" width="5.7" height="5.6" fill="#6ad428"/>
<line x1="46.60" y1="193.10" x2="51.10" y2="197.50" stroke="#222" stroke-width="1.0"/>
<rect x="53.30" y="192.50" width="5.7" height="5.6" fill="#fff" stroke="#d6d6d6" stroke-width="0.7"/>
<rect x="60.60" y="192.50" width="5.7" height="5.6" fill="#fff" stroke="#d6d6d6" stroke-width="0.7"/>
<line x1="65.5" y1="195.3" x2="77.5" y2="195.3" stroke="#000" stroke-width="2.6"/>
<text x="36.70" y="231.23" font-size="6.5" font-weight="bold" font-style="normal" fill="#2b2b2b" text-anchor="end">MPL</text>
<rect x="38.70" y="226.10" width="5.7" height="5.6" fill="#fff" stroke="#d6d6d6" stroke-width="0.7"/>
<rect x="46.00" y="226.10" width="5.7" height="5.6" fill="#fff" stroke="#d6d6d6" stroke-width="0.7"/>
<rect x="53.30" y="226.10" width="5.7" height="5.6" fill="#fff" stroke="#d6d6d6" stroke-width="0.7"/>
<rect x="60.60" y="226.10" width="5.7" height="5.6" fill="#17869f"/>
<line x1="61.20" y1="226.70" x2="65.70" y2="231.10" stroke="#222" stroke-width="1.0"/>
<line x1="65.5" y1="228.9" x2="77.5" y2="228.9" stroke="#000" stroke-width="2.6"/>
<text x="389.40" y="97.33" font-size="6.5" font-weight="bold" font-style="normal" fill="#2b2b2b" text-anchor="start">SPINT2</text>
<rect x="360.10" y="92.20" width="5.7" height="5.6" fill="#fff" stroke="#d6d6d6" stroke-width="0.7"/>
<rect x="367.40" y="92.20" width="5.7" height="5.6" fill="#fff" stroke="#d6d6d6" stroke-width="0.7"/>
<rect x="374.70" y="92.20" width="5.7" height="5.6" fill="#e0741f"/>
<line x1="375.30" y1="92.80" x2="379.80" y2="97.20" stroke="#222" stroke-width="1.0"/>
<rect x="382.00" y="92.20" width="5.7" height="5.6" fill="#fff" stroke="#d6d6d6" stroke-width="0.7"/>
<line x1="348.4" y1="95.0" x2="359.6" y2="95.0" stroke="#000" stroke-width="2.6"/>
<text x="389.40" y="130.53" font-size="6.5" font-weight="bold" font-style="normal" fill="#2b2b2b" text-anchor="start">ST3GAL3</text>
<rect x="360.10" y="125.40" width="5.7" height="5.6" fill="#ece22a"/>
<line x1="360.70" y1="126.00" x2="365.20" y2="130.40" stroke="#222" stroke-width="1.0"/>
<rect x="367.40" y="125.40" width="5.7" height="5.6" fill="#fff" stroke="#d6d6d6" stroke-width="0.7"/>
<rect x="374.70" y="125.40" width="5.7" height="5.6" fill="#fff" stroke="#d6d6d6" stroke-width="0.7"/>
<rect x="382.00" y="125.40" width="5.7" height="5.6" fill="#fff" stroke="#d6d6d6" stroke-width="0.7"/>
<line x1="348.4" y1="128.2" x2="359.6" y2="128.2" stroke="#000" stroke-width="2.6"/>
<text x="389.40" y="164.73" font-size="6.5" font-weight="bold" font-style="normal" fill="#2b2b2b" text-anchor="start">TMEM9B</text>
<rect x="360.10" y="159.60" width="5.7" height="5.6" fill="#fff" stroke="#d6d6d6" stroke-width="0.7"/>
<rect x="367.40" y="159.60" width="5.7" height="5.6" fill="#fff" stroke="#d6d6d6" stroke-width="0.7"/>
<rect x="374.70" y="159.60" width="5.7" height="5.6" fill="#e0741f"/>
<line x1="375.30" y1="160.20" x2="379.80" y2="164.60" stroke="#222" stroke-width="1.0"/>
<rect x="382.00" y="159.60" width="5.7" height="5.6" fill="#fff" stroke="#d6d6d6" stroke-width="0.7"/>
<line x1="348.4" y1="162.4" x2="359.6" y2="162.4" stroke="#000" stroke-width="2.6"/>
<text x="389.40" y="198.03" font-size="6.5" font-weight="bold" font-style="normal" fill="#2b2b2b" text-anchor="start">TREML1</text>
<rect x="360.10" y="192.90" width="5.7" height="5.6" fill="#fff" stroke="#d6d6d6" stroke-width="0.7"/>
<rect x="367.40" y="192.90" width="5.7" height="5.6" fill="#fff" stroke="#d6d6d6" stroke-width="0.7"/>
<rect x="374.70" y="192.90" width="5.7" height="5.6" fill="#fff" stroke="#d6d6d6" stroke-width="0.7"/>
<rect x="382.00" y="192.90" width="5.7" height="5.6" fill="#17869f"/>
<line x1="382.60" y1="193.50" x2="387.10" y2="197.90" stroke="#222" stroke-width="1.0"/>
<line x1="348.4" y1="195.7" x2="359.6" y2="195.7" stroke="#000" stroke-width="2.6"/>
<text x="389.40" y="231.53" font-size="6.5" font-weight="bold" font-style="normal" fill="#2b2b2b" text-anchor="start">TSPAN32</text>
<rect x="360.10" y="226.40" width="5.7" height="5.6" fill="#fff" stroke="#d6d6d6" stroke-width="0.7"/>
<rect x="367.40" y="226.40" width="5.7" height="5.6" fill="#fff" stroke="#d6d6d6" stroke-width="0.7"/>
<rect x="374.70" y="226.40" width="5.7" height="5.6" fill="#fff" stroke="#d6d6d6" stroke-width="0.7"/>
<rect x="382.00" y="226.40" width="5.7" height="5.6" fill="#17869f"/>
<line x1="382.60" y1="227.00" x2="387.10" y2="231.40" stroke="#222" stroke-width="1.0"/>
<line x1="348.4" y1="229.2" x2="359.6" y2="229.2" stroke="#000" stroke-width="2.6"/>
<rect x="436.8" y="224.8" width="80.7" height="81.5" fill="#fff" stroke="#2a2a2a" stroke-width="1.6"/>
<text x="442.50" y="241.18" font-size="12.8" font-weight="normal" font-style="normal" fill="#1a1a1a" text-anchor="start" textLength="12.3" lengthAdjust="spacingAndGlyphs">FA</text>
<rect x="443.30" y="244.4" width="12.6" height="12.9" fill="#fbf21c"/>
<text x="460.60" y="241.18" font-size="12.8" font-weight="normal" font-style="normal" fill="#1a1a1a" text-anchor="start" textLength="13.1" lengthAdjust="spacingAndGlyphs">FC</text>
<rect x="461.75" y="244.4" width="12.6" height="12.9" fill="#6ee82a"/>
<text x="478.80" y="241.18" font-size="12.8" font-weight="normal" font-style="normal" fill="#1a1a1a" text-anchor="start" textLength="13.4" lengthAdjust="spacingAndGlyphs">PA</text>
<rect x="480.20" y="244.4" width="12.6" height="12.9" fill="#f57f22"/>
<text x="497.50" y="241.18" font-size="12.8" font-weight="normal" font-style="normal" fill="#1a1a1a" text-anchor="start" textLength="13.9" lengthAdjust="spacingAndGlyphs">PC</text>
<rect x="498.65" y="244.4" width="12.6" height="12.9" fill="#1e9fcf"/>
<rect x="443.3" y="266.2" width="12.7" height="12.9" fill="none" stroke="#ddd" stroke-width="0.6"/>
<line x1="443.6" y1="278.8" x2="455.7" y2="266.6" stroke="#333" stroke-width="0.9"/>
<rect x="443.3" y="285.2" width="12.7" height="13.6" fill="none" stroke="#ddd" stroke-width="0.6"/>
<line x1="443.6" y1="285.6" x2="455.7" y2="298.5" stroke="#333" stroke-width="0.9"/>
<text x="464.90" y="276.70" font-size="12.3" font-weight="normal" font-style="normal" fill="#1a1a1a" text-anchor="start" textLength="46.9" lengthAdjust="spacingAndGlyphs">+ve Corr.</text>
<text x="468.30" y="296.30" font-size="12.3" font-weight="normal" font-style="normal" fill="#1a1a1a" text-anchor="start" textLength="43.5" lengthAdjust="spacingAndGlyphs">-ve Corr.</text>
<text x="46.60" y="333.01" font-size="14" font-weight="bold" font-style="normal" fill="#000" text-anchor="start">B</text>
<text x="149.60" y="327.13" font-size="6.5" font-weight="bold" font-style="italic" fill="#111" text-anchor="start" textLength="28.2" lengthAdjust="spacingAndGlyphs">COMMD7</text>
<line x1="80.9" y1="335.5" x2="80.9" y2="433.8" stroke="#333" stroke-width="1.1"/>
<line x1="77.5" y1="343.5" x2="80.9" y2="343.5" stroke="#333" stroke-width="1"/>
<text x="76.70" y="345.86" font-size="6.6" font-weight="bold" font-style="normal" fill="#1a1a1a" text-anchor="end" textLength="12.7" lengthAdjust="spacingAndGlyphs">1500</text>
<line x1="77.5" y1="370.0" x2="80.9" y2="370.0" stroke="#333" stroke-width="1"/>
<text x="76.70" y="372.36" font-size="6.6" font-weight="bold" font-style="normal" fill="#1a1a1a" text-anchor="end" textLength="12.7" lengthAdjust="spacingAndGlyphs">1250</text>
<line x1="77.5" y1="396.6" x2="80.9" y2="396.6" stroke="#333" stroke-width="1"/>
<text x="76.70" y="398.96" font-size="6.6" font-weight="bold" font-style="normal" fill="#1a1a1a" text-anchor="end" textLength="12.7" lengthAdjust="spacingAndGlyphs">1000</text>
<line x1="77.5" y1="423.4" x2="80.9" y2="423.4" stroke="#333" stroke-width="1"/>
<text x="76.70" y="425.76" font-size="6.6" font-weight="bold" font-style="normal" fill="#1a1a1a" text-anchor="end" textLength="9.4" lengthAdjust="spacingAndGlyphs">750</text>
<line x1="89.4" y1="442.5" x2="242" y2="442.5" stroke="#333" stroke-width="1.1"/>
<line x1="99.60" y1="442.5" x2="99.60" y2="445.3" stroke="#333" stroke-width="1"/>
<text x="99.60" y="452.43" font-size="6.5" font-weight="bold" font-style="normal" fill="#1a1a1a" text-anchor="middle">-2</text>
<line x1="132.60" y1="442.5" x2="132.60" y2="445.3" stroke="#333" stroke-width="1"/>
<text x="132.60" y="452.43" font-size="6.5" font-weight="bold" font-style="normal" fill="#1a1a1a" text-anchor="middle">-1</text>
<line x1="165.60" y1="442.5" x2="165.60" y2="445.3" stroke="#333" stroke-width="1"/>
<text x="165.60" y="452.43" font-size="6.5" font-weight="bold" font-style="normal" fill="#1a1a1a" text-anchor="middle">0</text>
<line x1="198.60" y1="442.5" x2="198.60" y2="445.3" stroke="#333" stroke-width="1"/>
<text x="198.60" y="452.43" font-size="6.5" font-weight="bold" font-style="normal" fill="#1a1a1a" text-anchor="middle">1</text>
<line x1="231.60" y1="442.5" x2="231.60" y2="445.3" stroke="#333" stroke-width="1"/>
<text x="231.60" y="452.43" font-size="6.5" font-weight="bold" font-style="normal" fill="#1a1a1a" text-anchor="middle">2</text>
<text x="98.90" y="462.79" font-size="6.4" font-weight="bold" font-style="normal" fill="#222" text-anchor="start" textLength="132.1" lengthAdjust="spacingAndGlyphs">Fibrinogen binding in response to CRP-XL</text>
<text transform="translate(54.8,385.6) rotate(-90)" x="0" y="0" font-size="6.3" font-weight="bold" fill="#222" text-anchor="middle" textLength="39.5" lengthAdjust="spacingAndGlyphs">Microarray SI</text>
<rect x="90.7" y="338.9" width="57.39999999999999" height="31.80000000000001" fill="#fff" stroke="#222" stroke-width="0.9"/>
<text x="94.70" y="345.73" font-size="5.95" font-weight="normal" font-style="normal" fill="#444" text-anchor="start">FA: not significant</text>
<text x="94.70" y="353.13" font-size="5.95" font-weight="bold" font-style="normal" fill="#222" text-anchor="start">FC: r=0.45 (0.98)</text>
<text x="94.70" y="360.23" font-size="5.95" font-weight="normal" font-style="normal" fill="#444" text-anchor="start">PA: not significant</text>
<text x="94.70" y="367.33" font-size="5.95" font-weight="normal" font-style="normal" fill="#444" text-anchor="start">PC: r=0.44 (0.96)</text>
<polyline points="100.3,410.50 228,386.23" fill="none" stroke="#1a1a1a" stroke-width="1.1"/>
<polyline points="100.30,399.64 105.62,399.32 110.94,398.98 116.26,398.62 121.58,398.24 126.90,397.83 132.22,397.39 137.55,396.91 142.87,396.37 148.19,395.76 153.51,395.06 158.83,394.27 164.15,393.36 169.47,392.33 174.79,391.18 180.11,389.92 185.43,388.56 190.75,387.13 196.07,385.63 201.40,384.08 206.72,382.49 212.04,380.86 217.36,379.21 222.68,377.54 228.00,375.86" fill="none" stroke="#1a1a1a" stroke-width="1.1" stroke-dasharray="2.2,1.4"/>
<polyline points="100.30,421.35 105.62,419.65 110.94,417.97 116.26,416.30 121.58,414.66 126.90,413.05 132.22,411.47 137.55,409.93 142.87,408.45 148.19,407.04 153.51,405.71 158.83,404.48 164.15,403.37 169.47,402.38 174.79,401.51 180.11,400.74 185.43,400.07 190.75,399.49 196.07,398.96 201.40,398.49 206.72,398.06 212.04,397.67 217.36,397.29 222.68,396.94 228.00,396.61" fill="none" stroke="#1a1a1a" stroke-width="1.1" stroke-dasharray="2.2,1.4"/>
<circle cx="166.6" cy="344.1" r="1.85" fill="#fff" stroke="#111" stroke-width="1.0"/>
<circle cx="100.8" cy="404.2" r="1.85" fill="#fff" stroke="#111" stroke-width="1.0"/>
<circle cx="112.8" cy="427.8" r="1.85" fill="#fff" stroke="#111" stroke-width="1.0"/>
<circle cx="122.3" cy="429.3" r="1.85" fill="#fff" stroke="#111" stroke-width="1.0"/>
<circle cx="126.2" cy="402.7" r="1.85" fill="#fff" stroke="#111" stroke-width="1.0"/>
<circle cx="130" cy="401.9" r="1.85" fill="#fff" stroke="#111" stroke-width="1.0"/>
<circle cx="131.5" cy="395" r="1.85" fill="#fff" stroke="#111" stroke-width="1.0"/>
<circle cx="132.3" cy="406.5" r="1.85" fill="#fff" stroke="#111" stroke-width="1.0"/>
<circle cx="129.7" cy="414.2" r="1.85" fill="#fff" stroke="#111" stroke-width="1.0"/>
<circle cx="139.5" cy="381.2" r="1.85" fill="#fff" stroke="#111" stroke-width="1.0"/>
<circle cx="139.2" cy="400.7" r="1.85" fill="#fff" stroke="#111" stroke-width="1.0"/>
<circle cx="141.1" cy="405.5" r="1.85" fill="#fff" stroke="#111" stroke-width="1.0"/>
<circle cx="145.4" cy="401.9" r="1.85" fill="#fff" stroke="#111" stroke-width="1.0"/>
<circle cx="148.2" cy="409.3" r="1.85" fill="#fff" stroke="#111" stroke-width="1.0"/>
<circle cx="151.5" cy="387.3" r="1.85" fill="#fff" stroke="#111" stroke-width="1.0"/>
<circle cx="155.8" cy="390.8" r="1.85" fill="#fff" stroke="#111" stroke-width="1.0"/>
<circle cx="158.9" cy="407.3" r="1.85" fill="#fff" stroke="#111" stroke-width="1.0"/>
<circle cx="161.1" cy="397.3" r="1.85" fill="#fff" stroke="#111" stroke-width="1.0"/>
<circle cx="163.8" cy="402.7" r="1.85" fill="#fff" stroke="#111" stroke-width="1.0"/>
<circle cx="163.2" cy="413.9" r="1.85" fill="#fff" stroke="#111" stroke-width="1.0"/>
<circle cx="166.9" cy="387.8" r="1.85" fill="#fff" stroke="#111" stroke-width="1.0"/>
<circle cx="174.8" cy="382.3" r="1.85" fill="#fff" stroke="#111" stroke-width="1.0"/>
<circle cx="175.5" cy="392.1" r="1.85" fill="#fff" stroke="#111" stroke-width="1.0"/>
<circle cx="175.8" cy="402.6" r="1.85" fill="#fff" stroke="#111" stroke-width="1.0"/>
<circle cx="174.8" cy="407.1" r="1.85" fill="#fff" stroke="#111" stroke-width="1.0"/>
<circle cx="183" cy="416.9" r="1.85" fill="#fff" stroke="#111" stroke-width="1.0"/>
<circle cx="198.3" cy="394.7" r="1.85" fill="#fff" stroke="#111" stroke-width="1.0"/>
<circle cx="199.3" cy="395.7" r="1.85" fill="#fff" stroke="#111" stroke-width="1.0"/>
<circle cx="206.8" cy="375.8" r="1.85" fill="#fff" stroke="#111" stroke-width="1.0"/>
<circle cx="209.5" cy="375.8" r="1.85" fill="#fff" stroke="#111" stroke-width="1.0"/>
<circle cx="207.5" cy="391.5" r="1.85" fill="#fff" stroke="#111" stroke-width="1.0"/>
<circle cx="210.1" cy="397" r="1.85" fill="#fff" stroke="#111" stroke-width="1.0"/>
<circle cx="206.8" cy="404.5" r="1.85" fill="#fff" stroke="#111" stroke-width="1.0"/>
<circle cx="212.4" cy="393.1" r="1.85" fill="#fff" stroke="#111" stroke-width="1.0"/>
<circle cx="217.3" cy="386.2" r="1.85" fill="#fff" stroke="#111" stroke-width="1.0"/>
<circle cx="229.7" cy="392.1" r="1.85" fill="#fff" stroke="#111" stroke-width="1.0"/>
<text x="379.30" y="327.13" font-size="6.5" font-weight="bold" font-style="italic" fill="#111" text-anchor="start" textLength="26.5" lengthAdjust="spacingAndGlyphs">LRRFIP1</text>
<line x1="309.5" y1="335.9" x2="309.5" y2="433.8" stroke="#333" stroke-width="1.1"/>
<line x1="306.1" y1="341.8" x2="309.5" y2="341.8" stroke="#333" stroke-width="1"/>
<text x="305.40" y="344.16" font-size="6.6" font-weight="bold" font-style="normal" fill="#1a1a1a" text-anchor="end" textLength="9.4" lengthAdjust="spacingAndGlyphs">550</text>
<line x1="306.1" y1="369.7" x2="309.5" y2="369.7" stroke="#333" stroke-width="1"/>
<text x="305.40" y="372.06" font-size="6.6" font-weight="bold" font-style="normal" fill="#1a1a1a" text-anchor="end" textLength="9.4" lengthAdjust="spacingAndGlyphs">450</text>
<line x1="306.1" y1="397.3" x2="309.5" y2="397.3" stroke="#333" stroke-width="1"/>
<text x="305.40" y="399.66" font-size="6.6" font-weight="bold" font-style="normal" fill="#1a1a1a" text-anchor="end" textLength="9.4" lengthAdjust="spacingAndGlyphs">350</text>
<line x1="306.1" y1="425.7" x2="309.5" y2="425.7" stroke="#333" stroke-width="1"/>
<text x="305.40" y="428.06" font-size="6.6" font-weight="bold" font-style="normal" fill="#1a1a1a" text-anchor="end" textLength="9.4" lengthAdjust="spacingAndGlyphs">250</text>
<line x1="318.3" y1="442.5" x2="469.7" y2="442.5" stroke="#333" stroke-width="1.1"/>
<line x1="328.60" y1="442.5" x2="328.60" y2="445.3" stroke="#333" stroke-width="1"/>
<text x="328.60" y="452.43" font-size="6.5" font-weight="bold" font-style="normal" fill="#1a1a1a" text-anchor="middle">-2</text>
<line x1="361.35" y1="442.5" x2="361.35" y2="445.3" stroke="#333" stroke-width="1"/>
<text x="361.35" y="452.43" font-size="6.5" font-weight="bold" font-style="normal" fill="#1a1a1a" text-anchor="middle">-1</text>
<line x1="394.10" y1="442.5" x2="394.10" y2="445.3" stroke="#333" stroke-width="1"/>
<text x="394.10" y="452.43" font-size="6.5" font-weight="bold" font-style="normal" fill="#1a1a1a" text-anchor="middle">0</text>
<line x1="426.85" y1="442.5" x2="426.85" y2="445.3" stroke="#333" stroke-width="1"/>
<text x="426.85" y="452.43" font-size="6.5" font-weight="bold" font-style="normal" fill="#1a1a1a" text-anchor="middle">1</text>
<line x1="459.60" y1="442.5" x2="459.60" y2="445.3" stroke="#333" stroke-width="1"/>
<text x="459.60" y="452.43" font-size="6.5" font-weight="bold" font-style="normal" fill="#1a1a1a" text-anchor="middle">2</text>
<text x="333.30" y="462.79" font-size="6.4" font-weight="bold" font-style="normal" fill="#222" text-anchor="start" textLength="119.4" lengthAdjust="spacingAndGlyphs">Fibrinogen binding in response to ADP</text>
<text transform="translate(282.1,385.6) rotate(-90)" x="0" y="0" font-size="6.3" font-weight="bold" fill="#222" text-anchor="middle" textLength="39.5" lengthAdjust="spacingAndGlyphs">Microarray SI</text>
<rect x="319.4" y="338.9" width="57.200000000000045" height="31.80000000000001" fill="#fff" stroke="#222" stroke-width="0.9"/>
<text x="323.40" y="345.13" font-size="5.95" font-weight="bold" font-style="normal" fill="#222" text-anchor="start">FA: r=0.43 (0.96)</text>
<text x="323.40" y="352.23" font-size="5.95" font-weight="normal" font-style="normal" fill="#444" text-anchor="start">FC: not significant</text>
<text x="323.40" y="359.33" font-size="5.95" font-weight="normal" font-style="normal" fill="#444" text-anchor="start">PA: not significant</text>
<text x="323.40" y="366.53" font-size="5.95" font-weight="normal" font-style="normal" fill="#444" text-anchor="start">PC: not significant</text>
<polyline points="320.8,410.40 462.3,384.22" fill="none" stroke="#1a1a1a" stroke-width="1.1"/>
<polyline points="320.80,399.39 326.70,399.04 332.59,398.67 338.49,398.28 344.38,397.86 350.28,397.42 356.18,396.93 362.07,396.39 367.97,395.78 373.86,395.08 379.76,394.29 385.65,393.36 391.55,392.31 397.45,391.11 403.34,389.78 409.24,388.34 415.13,386.81 421.03,385.20 426.93,383.53 432.82,381.81 438.72,380.06 444.61,378.28 450.51,376.47 456.40,374.65 462.30,372.82" fill="none" stroke="#1a1a1a" stroke-width="1.1" stroke-dasharray="2.2,1.4"/>
<polyline points="320.80,421.41 326.70,419.58 332.59,417.77 338.49,415.98 344.38,414.21 350.28,412.48 356.18,410.78 362.07,409.14 367.97,407.57 373.86,406.08 379.76,404.70 385.65,403.44 391.55,402.32 397.45,401.33 403.34,400.48 409.24,399.73 415.13,399.09 421.03,398.52 426.93,398.01 432.82,397.54 438.72,397.11 444.61,396.71 450.51,396.33 456.40,395.97 462.30,395.63" fill="none" stroke="#1a1a1a" stroke-width="1.1" stroke-dasharray="2.2,1.4"/>
<circle cx="320.8" cy="419.6" r="1.85" fill="#fff" stroke="#111" stroke-width="1.0"/>
<circle cx="345.5" cy="418.4" r="1.85" fill="#fff" stroke="#111" stroke-width="1.0"/>
<circle cx="350.4" cy="395" r="1.85" fill="#fff" stroke="#111" stroke-width="1.0"/>
<circle cx="355.3" cy="392.7" r="1.85" fill="#fff" stroke="#111" stroke-width="1.0"/>
<circle cx="367" cy="418.5" r="1.85" fill="#fff" stroke="#111" stroke-width="1.0"/>
<circle cx="369.9" cy="420.4" r="1.85" fill="#fff" stroke="#111" stroke-width="1.0"/>
<circle cx="367.8" cy="409.2" r="1.85" fill="#fff" stroke="#111" stroke-width="1.0"/>
<circle cx="368.8" cy="402.7" r="1.85" fill="#fff" stroke="#111" stroke-width="1.0"/>
<circle cx="372.2" cy="393.9" r="1.85" fill="#fff" stroke="#111" stroke-width="1.0"/>
<circle cx="372.2" cy="399.2" r="1.85" fill="#fff" stroke="#111" stroke-width="1.0"/>
<circle cx="377.8" cy="382.2" r="1.85" fill="#fff" stroke="#111" stroke-width="1.0"/>
<circle cx="381.2" cy="381.9" r="1.85" fill="#fff" stroke="#111" stroke-width="1.0"/>
<circle cx="378.1" cy="404.2" r="1.85" fill="#fff" stroke="#111" stroke-width="1.0"/>
<circle cx="379.6" cy="406.2" r="1.85" fill="#fff" stroke="#111" stroke-width="1.0"/>
<circle cx="384.2" cy="403.8" r="1.85" fill="#fff" stroke="#111" stroke-width="1.0"/>
<circle cx="385.8" cy="414.2" r="1.85" fill="#fff" stroke="#111" stroke-width="1.0"/>
<circle cx="386.1" cy="388.8" r="1.85" fill="#fff" stroke="#111" stroke-width="1.0"/>
<circle cx="387.6" cy="379.9" r="1.85" fill="#fff" stroke="#111" stroke-width="1.0"/>
<circle cx="389.2" cy="378.1" r="1.85" fill="#fff" stroke="#111" stroke-width="1.0"/>
<circle cx="391.6" cy="407.8" r="1.85" fill="#fff" stroke="#111" stroke-width="1.0"/>
<circle cx="393.5" cy="386.5" r="1.85" fill="#fff" stroke="#111" stroke-width="1.0"/>
<circle cx="400.1" cy="351.5" r="1.85" fill="#fff" stroke="#111" stroke-width="1.0"/>
<circle cx="402.1" cy="393.3" r="1.85" fill="#fff" stroke="#111" stroke-width="1.0"/>
<circle cx="402.5" cy="417.2" r="1.85" fill="#fff" stroke="#111" stroke-width="1.0"/>
<circle cx="404.9" cy="389.5" r="1.85" fill="#fff" stroke="#111" stroke-width="1.0"/>
<circle cx="411.8" cy="395.1" r="1.85" fill="#fff" stroke="#111" stroke-width="1.0"/>
<circle cx="413.9" cy="402.7" r="1.85" fill="#fff" stroke="#111" stroke-width="1.0"/>
<circle cx="415.3" cy="395.1" r="1.85" fill="#fff" stroke="#111" stroke-width="1.0"/>
<circle cx="419.5" cy="386.4" r="1.85" fill="#fff" stroke="#111" stroke-width="1.0"/>
<circle cx="436.1" cy="386.4" r="1.85" fill="#fff" stroke="#111" stroke-width="1.0"/>
<circle cx="440.6" cy="374.3" r="1.85" fill="#fff" stroke="#111" stroke-width="1.0"/>
<circle cx="452" cy="403.4" r="1.85" fill="#fff" stroke="#111" stroke-width="1.0"/>
<circle cx="458.2" cy="375" r="1.85" fill="#fff" stroke="#111" stroke-width="1.0"/>
<circle cx="462" cy="386.4" r="1.85" fill="#fff" stroke="#111" stroke-width="1.0"/>
<circle cx="463.8" cy="401" r="1.85" fill="#fff" stroke="#111" stroke-width="1.0"/>
</svg>
</body></html>
